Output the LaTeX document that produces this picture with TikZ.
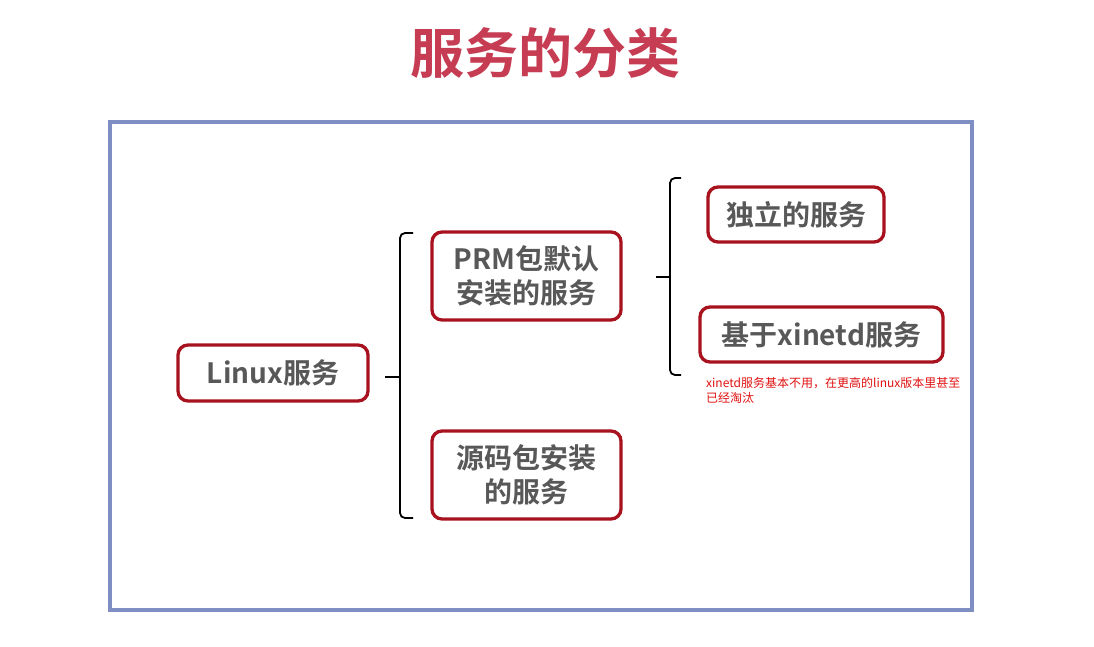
\documentclass[tikz,border=0pt]{standalone}
\usepackage{fontspec}
\setmainfont{Noto Sans CJK SC}
\newfontfamily\cjkbold{Noto Sans CJK SC Bold}
\definecolor{titlered}{HTML}{C63C52}
\definecolor{boxred}{HTML}{A8121E}
\definecolor{framblue}{HTML}{7F8FC3}
\definecolor{textgray}{HTML}{585858}
\definecolor{notered}{HTML}{E01010}
\tikzset{
  svcbox/.style={draw=boxred, line width=3.3pt, rounded corners=10pt, fill=white,
    text=textgray, font=\cjkbold\fontsize{28}{34}\selectfont, align=center, inner sep=0pt},
  bracket/.style={line width=1.8pt, rounded corners=5pt}
}
\begin{document}
\begin{tikzpicture}[x=1pt,y=-1pt]
\useasboundingbox (0,0) rectangle (1094,646);
\node[text=titlered, font=\cjkbold\fontsize{54}{64}\selectfont] (title) at (545,53) {服务的分类};
\draw[framblue, line width=3.5pt] (110,122) rectangle (972,610);
\node[svcbox, minimum width=190pt, minimum height=56pt] (linux) at (273,373) {Linux服务};
\node[svcbox, minimum width=189pt, minimum height=88pt] (prm) at (526.5,276) {PRM包默认\\安装的服务};
\node[svcbox, minimum width=189pt, minimum height=88pt] (src) at (526.5,475) {源码包安装\\的服务};
\node[svcbox, minimum width=176pt, minimum height=55pt] (alone) at (796,214.5) {独立的服务};
\node[svcbox, minimum width=243pt, minimum height=55pt] (xinetd) at (821.5,334.5) {基于xinetd服务};
\coordinate (b1top) at (413,233);
\coordinate (b1bot) at (413,518);
\coordinate (b1mid) at (400,377);
\coordinate (b2top) at (681,178);
\coordinate (b2bot) at (681,375);
\coordinate (b2mid) at (670,277);
\draw[bracket] (b1top) -- (400,233) -- (400,518) -- (b1bot);
\draw[line width=1.8pt] (b1mid) -- ++(-15,0);
\draw[bracket] (b2top) -- (670,178) -- (670,375) -- (b2bot);
\draw[line width=1.8pt] (b2mid) -- ++(-14,0);
\node[text=notered, font=\fontsize{12}{15}\selectfont, align=left, anchor=north west, inner sep=0pt] (note) at (706,377) {xinetd服务基本不用，在更高的linux版本里甚至\\已经淘汰};
\end{tikzpicture}
\end{document}
